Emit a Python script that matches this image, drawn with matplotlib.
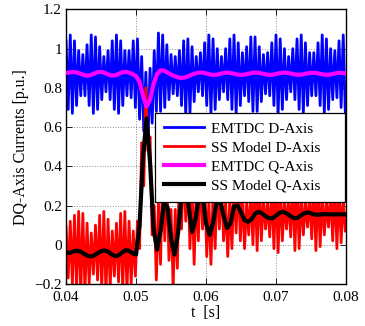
import numpy as np
import matplotlib
matplotlib.use("Agg")
import matplotlib.pyplot as plt

plt.rcParams['font.family'] = ['Liberation Serif', 'DejaVu Serif']

# ---- EMTDC / small-signal model DQ currents ----
# fast oscillating signals: one positive and one negative peak per 0.6 ms cycle
cycle_start = 0.040
cycle_period = 0.0006

emtdc_d_hi = [1.04, 1.07, 1.04, 0.99, 0.97, 1.02, 1.07, 1.06, 1.01, 0.96,
              0.99, 1.04, 1.07, 1.04, 0.99, 0.99, 1.04, 1.05, 0.96, 0.88,
              0.90, 0.99, 1.08, 1.07, 1.02, 0.97, 0.96, 0.99, 1.04, 1.05,
              1.01, 0.96, 0.98, 1.03, 1.07, 1.05, 1.00, 0.96, 1.00, 1.05,
              1.07, 1.03, 0.98, 1.01, 1.06, 1.06, 1.01, 0.97, 0.98, 1.03,
              1.07, 1.05, 1.00, 0.96, 1.00, 1.05, 1.07, 1.03, 0.98, 0.98,
              1.03, 1.07, 1.05, 1.00, 0.99, 1.04, 1.07]
emtdc_d_lo = [0.69, 0.67, 0.71, 0.76, 0.76, 0.71, 0.67, 0.69, 0.74, 0.78,
              0.74, 0.69, 0.67, 0.71, 0.76, 0.75, 0.70, 0.64, 0.58, 0.52,
              0.62, 0.68, 0.68, 0.70, 0.74, 0.77, 0.76, 0.71, 0.66, 0.67,
              0.73, 0.78, 0.76, 0.71, 0.67, 0.69, 0.74, 0.78, 0.74, 0.69,
              0.67, 0.71, 0.76, 0.73, 0.68, 0.68, 0.73, 0.77, 0.76, 0.71,
              0.67, 0.69, 0.74, 0.78, 0.74, 0.69, 0.67, 0.71, 0.76, 0.76,
              0.71, 0.67, 0.69, 0.74, 0.75, 0.70, 0.67]

ss_d_hi = [0.09, 0.12, 0.15, 0.17, 0.16, 0.11, 0.06, 0.10, 0.15, 0.17,
           0.13, 0.07, 0.11, 0.16, 0.17, 0.12, 0.07, 0.12, 0.52, 0.80,
           0.55, 0.20, 0.22, 0.40, 0.38, 0.18, 0.18, 0.40, 0.45, 0.38,
           0.28, 0.30, 0.40, 0.34, 0.22, 0.26, 0.36, 0.34, 0.22, 0.24,
           0.33, 0.36, 0.27, 0.21, 0.28, 0.33, 0.32, 0.24, 0.22, 0.30,
           0.33, 0.30, 0.23, 0.24, 0.31, 0.32, 0.27, 0.22, 0.25, 0.31,
           0.32, 0.26, 0.22, 0.27, 0.32, 0.30, 0.24]
ss_d_lo = [-0.17, -0.20, -0.23, -0.25, -0.24, -0.20, -0.15, -0.18, -0.23, -0.25,
           -0.22, -0.16, -0.19, -0.23, -0.24, -0.20, -0.16, -0.02, 0.30, 0.48,
           0.05, -0.18, -0.10, 0.02, -0.08, -0.22, -0.12, 0.08, 0.12, -0.02,
           -0.10, 0.02, 0.08, -0.06, -0.10, -0.02, 0.08, 0.02, -0.06, -0.02,
           0.06, 0.02, -0.02, 0.05, 0.00, -0.03, 0.02, 0.08, 0.04, -0.02,
           -0.04, 0.02, 0.08, 0.04, -0.03, -0.02, 0.05, 0.09, 0.03, -0.03,
           -0.01, 0.05, 0.09, 0.02, -0.02, 0.01, 0.07]

# slow (Q-axis) signals sampled every 0.5 ms
slow_start = 0.040
slow_step = 0.0005

emtdc_q = [0.876, 0.879, 0.881, 0.879, 0.873, 0.866, 0.862, 0.865, 0.873, 0.880,
           0.882, 0.877, 0.869, 0.863, 0.864, 0.871, 0.879, 0.882, 0.878, 0.870,
           0.860, 0.830, 0.760, 0.705, 0.740, 0.820, 0.870, 0.890, 0.888, 0.878,
           0.868, 0.860, 0.853, 0.851, 0.853, 0.860, 0.868, 0.874, 0.878, 0.878,
           0.874, 0.869, 0.866, 0.867, 0.871, 0.876, 0.878, 0.876, 0.872, 0.868,
           0.866, 0.868, 0.872, 0.876, 0.878, 0.877, 0.873, 0.869, 0.866, 0.867,
           0.871, 0.875, 0.878, 0.877, 0.874, 0.870, 0.867, 0.867, 0.870, 0.874,
           0.877, 0.877, 0.874, 0.870, 0.867, 0.867, 0.870, 0.874, 0.877, 0.876,
           0.873]

ss_q = [-0.038, -0.042, -0.035, -0.030, -0.034, -0.045, -0.055, -0.060, -0.055, -0.043,
        -0.033, -0.029, -0.035, -0.049, -0.058, -0.054, -0.040, -0.028, -0.030, -0.044,
        -0.050, 0.100, 0.450, 0.645, 0.420, 0.080, -0.025, 0.070, 0.215, 0.190,
        0.030, -0.050, 0.060, 0.245, 0.296, 0.200, 0.066, 0.130, 0.255, 0.250,
        0.110, 0.050, 0.110, 0.215, 0.225, 0.150, 0.085, 0.110, 0.195, 0.200,
        0.165, 0.125, 0.117, 0.130, 0.158, 0.168, 0.160, 0.145, 0.136, 0.135,
        0.148, 0.163, 0.168, 0.160, 0.148, 0.136, 0.136, 0.148, 0.160, 0.165,
        0.160, 0.154, 0.153, 0.155, 0.156, 0.155, 0.155, 0.155, 0.155, 0.155,
        0.155]

labels = ['EMTDC D-Axis', 'SS Model D-Axis', 'EMTDC Q-Axis', 'SS Model Q-Axis']
x_ticks = [0.04, 0.05, 0.06, 0.07, 0.08]
y_ticks = [-0.2, 0, 0.2, 0.4, 0.6, 0.8, 1.0, 1.2]
x_tick_labels = ['0.04', '0.05', '0.06', '0.07', '0.08']
y_tick_labels = ['\u22120.2', '0', '0.2', '0.4', '0.6', '0.8', '1', '1.2']


def fast_series(hi, lo):
    n = len(hi)
    t_hi = cycle_start + cycle_period * np.arange(n)
    t_lo = t_hi + cycle_period / 2
    t = np.empty(2 * n)
    v = np.empty(2 * n)
    t[0::2], t[1::2] = t_hi, t_lo
    v[0::2], v[1::2] = hi, lo
    return t, v


t_ed, v_ed = fast_series(emtdc_d_hi, emtdc_d_lo)
t_sd, v_sd = fast_series(ss_d_hi, ss_d_lo)
t_slow = slow_start + slow_step * np.arange(len(emtdc_q))

fig = plt.figure(figsize=(3.65, 3.26), dpi=100)
ax = fig.add_axes([0.181, 0.129, 0.767, 0.842])

ax.plot(t_ed, v_ed, color='#0000ff', lw=2.0, label=labels[0], zorder=2)
ax.plot(t_sd, v_sd, color='#ff0000', lw=2.0, label=labels[1], zorder=2)
ax.plot(t_slow, emtdc_q, color='#ff00ff', lw=3.0, label=labels[2], zorder=3)
ax.plot(t_slow, ss_q, color='black', lw=3.0, label=labels[3], zorder=3)

ax.set_xlim(0.04, 0.08)
ax.set_ylim(-0.2, 1.2)
ax.set_xticks(x_ticks)
ax.set_xticklabels(x_tick_labels)
ax.set_yticks(y_ticks)
ax.set_yticklabels(y_tick_labels)
ax.tick_params(direction='in', length=4, width=0.6, top=True, right=True,
               labelsize=11)
ax.tick_params(axis='x', pad=5)
ax.tick_params(axis='y', pad=3)
ax.grid(True, linestyle=':', color='0.55', lw=0.7)
for sp in ax.spines.values():
    sp.set_linewidth(1.0)

ax.set_xlabel('t  [s]', fontsize=11.5, labelpad=1)
ax.set_ylabel('DQ-Axis Currents [p.u.]', fontsize=11.5, labelpad=4)

leg = ax.legend(loc='upper left', bbox_to_anchor=(0.318, 0.0, 0.678, 0.623),
                mode='expand', borderaxespad=0, fontsize=11, frameon=True,
                fancybox=False, framealpha=1, edgecolor='black',
                handlelength=2.6, handletextpad=0.45, labelspacing=0.34,
                borderpad=0.6)
leg.get_frame().set_linewidth(0.9)

fig.savefig('out.png', dpi=100)
